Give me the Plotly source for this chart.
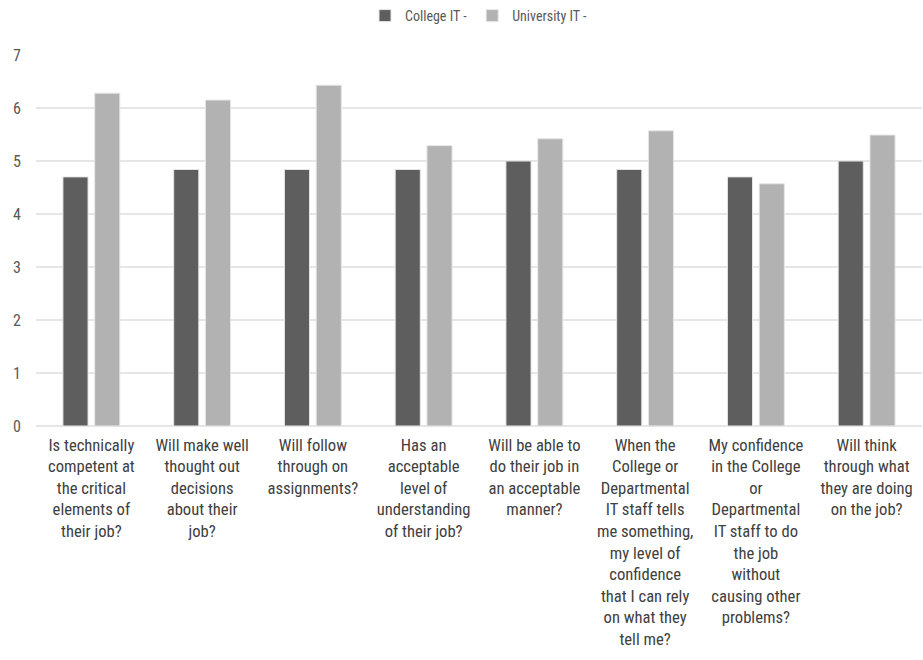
import plotly.graph_objects as go

categories = [
    "Is technically<br>competent at<br>the critical<br>elements of<br>their job?",
    "Will make well<br>thought out<br>decisions<br>about their<br>job?",
    "Will follow<br>through on<br>assignments?",
    "Has an<br>acceptable<br>level of<br>understanding<br>of their job?",
    "Will be able to<br>do their job in<br>an acceptable<br>manner?",
    "When the<br>College or<br>Departmental<br>IT staff tells<br>me something,<br>my level of<br>confidence<br>that I can rely<br>on what they<br>tell me?",
    "My confidence<br>in the College<br>or<br>Departmental<br>IT staff to do<br>the job<br>without<br>causing other<br>problems?",
    "Will think<br>through what<br>they are doing<br>on the job?",
]
college_it = [4.70, 4.84, 4.84, 4.84, 5.00, 4.84, 4.70, 5.00]
university_it = [6.28, 6.15, 6.43, 5.29, 5.42, 5.57, 4.57, 5.49]
y_ticks = [0, 1, 2, 3, 4, 5, 6, 7]

FONT = "Liberation Sans Narrow, Roboto Condensed, Arial Narrow, Liberation Sans, sans-serif"
x_pos = list(range(len(categories)))

fig = go.Figure()
fig.add_trace(go.Bar(
    x=x_pos, y=college_it, name="College IT -",
    marker=dict(color="#5e5e5e", line=dict(color="#e6e6e6", width=1)),
))
fig.add_trace(go.Bar(
    x=x_pos, y=university_it, name="University IT -",
    marker=dict(color="#b2b2b2", line=dict(color="#e6e6e6", width=1)),
))

fig.update_layout(
    width=923, height=660,
    margin=dict(l=36, r=1, t=55, b=234),
    paper_bgcolor="white", plot_bgcolor="white",
    barmode="group", bargap=0.426, bargroupgap=0.21,
    font=dict(family=FONT, color="#595959", size=16),
    legend=dict(
        orientation="h", x=0.5, xanchor="center", y=1.0, yanchor="top",
        yref="container", font=dict(size=14, color="#595959"),
        traceorder="normal",
    ),
    xaxis=dict(
        tickmode="array", tickvals=x_pos, ticktext=categories,
        range=[-0.5, len(categories) - 0.5],
        showgrid=False, showline=False, ticks="",
        tickfont=dict(size=16.6, color="#404040"), tickangle=0,
        ticklabelstandoff=7,
    ),
    yaxis=dict(
        range=[0, 7], tickmode="array", tickvals=y_ticks,
        showgrid=True, gridcolor="#e6e6e6", gridwidth=1.5,
        zeroline=True, zerolinecolor="#e6e6e6", zerolinewidth=1.5,
        showline=False, ticks="", tickfont=dict(size=16, color="#595959"),
        ticklabelstandoff=14,
    ),
)

fig.write_html("out.html")
